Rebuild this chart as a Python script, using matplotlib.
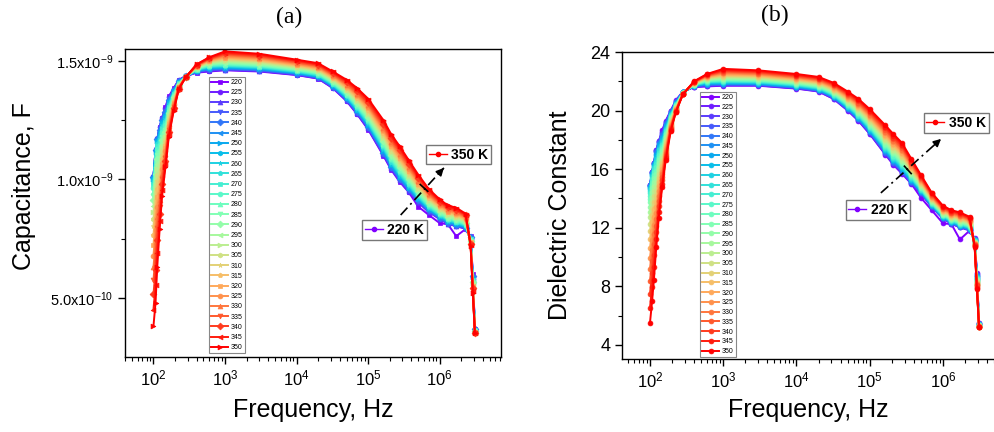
import numpy as np
import matplotlib
matplotlib.use("Agg")
import matplotlib.pyplot as plt
from matplotlib.lines import Line2D
from matplotlib.legend import Legend
from matplotlib.ticker import FixedLocator, FuncFormatter

plt.rcParams['font.family'] = ['Liberation Sans', 'DejaVu Sans']
plt.rcParams['mathtext.default'] = 'regular'

# temperatures (K) and measurement frequencies (Hz)
temps_k = [220, 225, 230, 235, 240, 245, 250, 255, 260, 265, 270, 275, 280, 285,
           290, 295, 300, 305, 310, 315, 320, 325, 330, 335, 340, 345, 350]
freq_hz = [100, 107, 113, 122, 132, 147, 164, 192, 226, 281, 400, 600, 1000, 3000,
           10000, 20000, 32000, 50000, 70000, 100000, 163000, 210000, 275000, 370000,
           500000, 700000, 1000000, 1300000, 1700000, 2300000, 2700000, 2900000, 3100000]

# capacitance (nF), one row per frequency, 27 values each (220 K ... 350 K)
cap_nf = [
    [1.010, 1.010, 1.010, 1.009, 1.008, 1.006, 1.002, 0.998, 0.992, 0.984, 0.974, 0.962, 0.948, 0.931, 0.912, 0.889, 0.863, 0.834, 0.801, 0.764, 0.723, 0.678, 0.628, 0.574, 0.514, 0.450, 0.380],
    [1.125, 1.125, 1.125, 1.124, 1.123, 1.120, 1.117, 1.112, 1.106, 1.098, 1.088, 1.076, 1.062, 1.044, 1.024, 1.001, 0.975, 0.945, 0.911, 0.873, 0.831, 0.785, 0.734, 0.679, 0.618, 0.552, 0.480],
    [1.170, 1.170, 1.170, 1.169, 1.168, 1.166, 1.163, 1.159, 1.154, 1.148, 1.139, 1.129, 1.117, 1.103, 1.086, 1.066, 1.044, 1.019, 0.991, 0.959, 0.924, 0.885, 0.843, 0.796, 0.745, 0.690, 0.630],
    [1.220, 1.219, 1.217, 1.214, 1.210, 1.204, 1.197, 1.189, 1.179, 1.168, 1.156, 1.143, 1.128, 1.112, 1.095, 1.077, 1.057, 1.036, 1.014, 0.990, 0.966, 0.939, 0.912, 0.884, 0.854, 0.822, 0.790],
    [1.260, 1.260, 1.258, 1.256, 1.252, 1.248, 1.242, 1.236, 1.229, 1.220, 1.211, 1.201, 1.190, 1.178, 1.164, 1.150, 1.135, 1.119, 1.102, 1.084, 1.065, 1.045, 1.024, 1.002, 0.979, 0.955, 0.930],
    [1.305, 1.300, 1.294, 1.289, 1.282, 1.276, 1.269, 1.261, 1.254, 1.246, 1.237, 1.228, 1.219, 1.209, 1.199, 1.189, 1.178, 1.167, 1.156, 1.144, 1.131, 1.119, 1.106, 1.092, 1.079, 1.065, 1.050],
    [1.350, 1.347, 1.343, 1.339, 1.335, 1.331, 1.326, 1.321, 1.316, 1.310, 1.305, 1.299, 1.293, 1.286, 1.280, 1.273, 1.266, 1.258, 1.250, 1.243, 1.234, 1.226, 1.217, 1.208, 1.199, 1.190, 1.180],
    [1.385, 1.383, 1.381, 1.379, 1.377, 1.374, 1.372, 1.369, 1.366, 1.363, 1.360, 1.356, 1.353, 1.349, 1.346, 1.342, 1.338, 1.334, 1.329, 1.325, 1.320, 1.316, 1.311, 1.306, 1.301, 1.295, 1.290],
    [1.420, 1.418, 1.417, 1.415, 1.414, 1.412, 1.411, 1.409, 1.408, 1.406, 1.405, 1.403, 1.402, 1.400, 1.398, 1.397, 1.395, 1.394, 1.392, 1.391, 1.389, 1.388, 1.386, 1.385, 1.383, 1.382, 1.380],
    [1.435, 1.435, 1.435, 1.434, 1.434, 1.434, 1.434, 1.434, 1.433, 1.433, 1.433, 1.433, 1.433, 1.432, 1.432, 1.432, 1.432, 1.432, 1.432, 1.431, 1.431, 1.431, 1.431, 1.431, 1.430, 1.430, 1.430],
    [1.450, 1.451, 1.453, 1.454, 1.455, 1.457, 1.458, 1.459, 1.461, 1.462, 1.463, 1.465, 1.466, 1.468, 1.469, 1.470, 1.472, 1.473, 1.474, 1.476, 1.477, 1.478, 1.480, 1.481, 1.482, 1.484, 1.485],
    [1.455, 1.457, 1.460, 1.462, 1.464, 1.467, 1.469, 1.471, 1.474, 1.476, 1.478, 1.480, 1.483, 1.485, 1.487, 1.490, 1.492, 1.494, 1.497, 1.499, 1.501, 1.504, 1.506, 1.508, 1.510, 1.513, 1.515],
    [1.460, 1.462, 1.463, 1.465, 1.467, 1.469, 1.471, 1.474, 1.476, 1.479, 1.481, 1.484, 1.487, 1.490, 1.493, 1.496, 1.500, 1.503, 1.507, 1.511, 1.514, 1.518, 1.523, 1.527, 1.531, 1.535, 1.540],
    [1.455, 1.457, 1.458, 1.460, 1.462, 1.464, 1.466, 1.468, 1.470, 1.473, 1.475, 1.478, 1.480, 1.483, 1.486, 1.489, 1.492, 1.496, 1.499, 1.502, 1.506, 1.510, 1.514, 1.518, 1.522, 1.526, 1.530],
    [1.440, 1.441, 1.443, 1.444, 1.446, 1.448, 1.449, 1.451, 1.453, 1.455, 1.457, 1.460, 1.462, 1.464, 1.467, 1.470, 1.472, 1.475, 1.478, 1.481, 1.484, 1.487, 1.491, 1.494, 1.498, 1.501, 1.505],
    [1.425, 1.426, 1.428, 1.429, 1.431, 1.433, 1.434, 1.436, 1.438, 1.440, 1.442, 1.445, 1.447, 1.449, 1.452, 1.455, 1.457, 1.460, 1.463, 1.466, 1.469, 1.472, 1.476, 1.479, 1.483, 1.486, 1.490],
    [1.385, 1.386, 1.388, 1.390, 1.391, 1.393, 1.395, 1.397, 1.399, 1.401, 1.404, 1.406, 1.409, 1.411, 1.414, 1.417, 1.420, 1.423, 1.426, 1.429, 1.433, 1.436, 1.440, 1.443, 1.447, 1.451, 1.455],
    [1.330, 1.332, 1.334, 1.336, 1.338, 1.340, 1.343, 1.345, 1.348, 1.351, 1.354, 1.357, 1.360, 1.364, 1.367, 1.371, 1.375, 1.379, 1.383, 1.387, 1.391, 1.396, 1.400, 1.405, 1.410, 1.415, 1.420],
    [1.275, 1.277, 1.280, 1.282, 1.285, 1.288, 1.291, 1.294, 1.297, 1.301, 1.304, 1.308, 1.312, 1.316, 1.321, 1.325, 1.330, 1.335, 1.339, 1.345, 1.350, 1.355, 1.361, 1.367, 1.373, 1.379, 1.385],
    [1.210, 1.213, 1.215, 1.218, 1.222, 1.225, 1.229, 1.232, 1.236, 1.240, 1.245, 1.249, 1.254, 1.259, 1.264, 1.269, 1.275, 1.280, 1.286, 1.292, 1.299, 1.305, 1.312, 1.318, 1.325, 1.333, 1.340],
    [1.100, 1.103, 1.106, 1.110, 1.113, 1.117, 1.121, 1.126, 1.130, 1.135, 1.140, 1.145, 1.151, 1.156, 1.162, 1.168, 1.175, 1.181, 1.188, 1.195, 1.202, 1.210, 1.217, 1.225, 1.233, 1.241, 1.250],
    [1.040, 1.043, 1.046, 1.050, 1.053, 1.057, 1.061, 1.066, 1.070, 1.075, 1.080, 1.085, 1.091, 1.096, 1.102, 1.108, 1.115, 1.121, 1.128, 1.135, 1.142, 1.150, 1.157, 1.165, 1.173, 1.181, 1.190],
    [0.990, 0.993, 0.996, 1.000, 1.003, 1.007, 1.011, 1.016, 1.020, 1.025, 1.030, 1.035, 1.041, 1.046, 1.052, 1.058, 1.065, 1.071, 1.078, 1.085, 1.092, 1.100, 1.107, 1.115, 1.123, 1.131, 1.140],
    [0.945, 0.948, 0.951, 0.954, 0.957, 0.961, 0.964, 0.968, 0.972, 0.977, 0.981, 0.986, 0.991, 0.996, 1.001, 1.006, 1.012, 1.018, 1.024, 1.030, 1.037, 1.044, 1.050, 1.058, 1.065, 1.072, 1.080],
    [0.885, 0.902, 0.905, 0.908, 0.911, 0.914, 0.917, 0.921, 0.924, 0.928, 0.932, 0.936, 0.940, 0.945, 0.950, 0.955, 0.960, 0.965, 0.970, 0.976, 0.982, 0.988, 0.994, 1.000, 1.007, 1.013, 1.020],
    [0.850, 0.862, 0.864, 0.866, 0.869, 0.872, 0.874, 0.877, 0.880, 0.883, 0.887, 0.890, 0.894, 0.898, 0.901, 0.905, 0.910, 0.914, 0.919, 0.923, 0.928, 0.933, 0.938, 0.943, 0.949, 0.954, 0.960],
    [0.815, 0.832, 0.834, 0.835, 0.838, 0.840, 0.842, 0.845, 0.847, 0.850, 0.853, 0.856, 0.859, 0.862, 0.865, 0.869, 0.872, 0.876, 0.880, 0.884, 0.888, 0.892, 0.896, 0.901, 0.905, 0.910, 0.915],
    [0.810, 0.812, 0.813, 0.815, 0.817, 0.819, 0.821, 0.824, 0.826, 0.829, 0.831, 0.834, 0.837, 0.840, 0.843, 0.846, 0.850, 0.853, 0.857, 0.861, 0.864, 0.868, 0.873, 0.877, 0.881, 0.885, 0.890],
    [0.760, 0.802, 0.803, 0.805, 0.807, 0.809, 0.811, 0.814, 0.816, 0.819, 0.821, 0.824, 0.827, 0.830, 0.833, 0.836, 0.840, 0.843, 0.847, 0.851, 0.854, 0.858, 0.862, 0.867, 0.871, 0.875, 0.880],
    [0.790, 0.791, 0.793, 0.794, 0.796, 0.798, 0.799, 0.801, 0.803, 0.805, 0.807, 0.810, 0.812, 0.814, 0.817, 0.820, 0.822, 0.825, 0.828, 0.831, 0.834, 0.837, 0.841, 0.844, 0.848, 0.851, 0.855],
    [0.760, 0.752, 0.758, 0.748, 0.755, 0.745, 0.750, 0.742, 0.751, 0.740, 0.746, 0.738, 0.744, 0.735, 0.741, 0.733, 0.739, 0.730, 0.737, 0.728, 0.734, 0.726, 0.731, 0.724, 0.729, 0.722, 0.720],
    [0.600, 0.585, 0.596, 0.578, 0.590, 0.572, 0.586, 0.566, 0.580, 0.562, 0.575, 0.558, 0.570, 0.553, 0.566, 0.549, 0.561, 0.545, 0.556, 0.541, 0.551, 0.537, 0.546, 0.533, 0.540, 0.528, 0.520],
    [0.370, 0.365, 0.372, 0.362, 0.368, 0.360, 0.366, 0.358, 0.364, 0.356, 0.362, 0.355, 0.360, 0.354, 0.359, 0.353, 0.357, 0.352, 0.356, 0.351, 0.355, 0.350, 0.354, 0.350, 0.352, 0.350, 0.350],
]

# dielectric constant, same layout
eps_r = [
    [14.90, 14.90, 14.90, 14.89, 14.87, 14.83, 14.78, 14.72, 14.63, 14.51, 14.37, 14.19, 13.98, 13.73, 13.43, 13.10, 12.71, 12.27, 11.78, 11.23, 10.62, 9.95, 9.21, 8.39, 7.51, 6.54, 5.50],
    [15.80, 15.80, 15.80, 15.79, 15.77, 15.74, 15.69, 15.63, 15.54, 15.43, 15.30, 15.13, 14.94, 14.70, 14.43, 14.11, 13.75, 13.34, 12.88, 12.37, 11.79, 11.16, 10.47, 9.71, 8.88, 7.98, 7.00],
    [16.40, 16.40, 16.40, 16.39, 16.37, 16.34, 16.30, 16.24, 16.17, 16.07, 15.94, 15.79, 15.61, 15.40, 15.15, 14.86, 14.54, 14.16, 13.75, 13.28, 12.76, 12.18, 11.55, 10.86, 10.11, 9.29, 8.40],
    [17.30, 17.29, 17.26, 17.21, 17.14, 17.06, 16.95, 16.82, 16.68, 16.51, 16.32, 16.12, 15.89, 15.65, 15.39, 15.10, 14.80, 14.48, 14.14, 13.78, 13.39, 12.99, 12.57, 12.14, 11.68, 11.20, 10.70],
    [17.90, 17.89, 17.87, 17.83, 17.78, 17.71, 17.62, 17.52, 17.41, 17.28, 17.13, 16.97, 16.79, 16.60, 16.39, 16.17, 15.93, 15.68, 15.41, 15.12, 14.82, 14.51, 14.18, 13.83, 13.47, 13.09, 12.70],
    [18.65, 18.57, 18.49, 18.40, 18.31, 18.21, 18.10, 17.99, 17.88, 17.75, 17.62, 17.49, 17.35, 17.21, 17.06, 16.90, 16.74, 16.57, 16.39, 16.22, 16.03, 15.84, 15.64, 15.44, 15.23, 15.02, 14.80],
    [19.30, 19.25, 19.19, 19.13, 19.06, 18.99, 18.92, 18.84, 18.76, 18.67, 18.58, 18.49, 18.39, 18.29, 18.18, 18.07, 17.96, 17.84, 17.72, 17.59, 17.46, 17.33, 17.19, 17.05, 16.90, 16.75, 16.60],
    [20.00, 19.97, 19.94, 19.91, 19.88, 19.84, 19.80, 19.76, 19.72, 19.67, 19.63, 19.58, 19.53, 19.48, 19.42, 19.36, 19.30, 19.24, 19.18, 19.11, 19.05, 18.98, 18.91, 18.83, 18.76, 18.68, 18.60],
    [20.70, 20.67, 20.64, 20.61, 20.58, 20.55, 20.52, 20.48, 20.45, 20.42, 20.39, 20.36, 20.33, 20.30, 20.27, 20.24, 20.21, 20.18, 20.15, 20.12, 20.08, 20.05, 20.02, 19.99, 19.96, 19.93, 19.90],
    [21.30, 21.29, 21.28, 21.28, 21.27, 21.26, 21.25, 21.25, 21.24, 21.23, 21.22, 21.22, 21.21, 21.20, 21.19, 21.18, 21.18, 21.17, 21.16, 21.15, 21.15, 21.14, 21.13, 21.12, 21.12, 21.11, 21.10],
    [21.60, 21.62, 21.63, 21.65, 21.66, 21.68, 21.69, 21.71, 21.72, 21.74, 21.75, 21.77, 21.78, 21.80, 21.82, 21.83, 21.85, 21.86, 21.88, 21.89, 21.91, 21.92, 21.94, 21.95, 21.97, 21.98, 22.00],
    [21.65, 21.68, 21.72, 21.75, 21.78, 21.81, 21.85, 21.88, 21.91, 21.94, 21.98, 22.01, 22.04, 22.08, 22.11, 22.14, 22.17, 22.21, 22.24, 22.27, 22.30, 22.34, 22.37, 22.40, 22.44, 22.47, 22.50],
    [21.70, 21.72, 21.75, 21.77, 21.80, 21.83, 21.86, 21.90, 21.93, 21.97, 22.01, 22.05, 22.09, 22.13, 22.18, 22.22, 22.27, 22.32, 22.37, 22.43, 22.48, 22.54, 22.60, 22.66, 22.72, 22.78, 22.85],
    [21.70, 21.72, 21.74, 21.77, 21.79, 21.82, 21.85, 21.88, 21.91, 21.94, 21.98, 22.02, 22.05, 22.09, 22.13, 22.18, 22.22, 22.27, 22.32, 22.36, 22.41, 22.47, 22.52, 22.58, 22.63, 22.69, 22.75],
    [21.50, 21.52, 21.54, 21.56, 21.59, 21.61, 21.64, 21.67, 21.70, 21.73, 21.77, 21.80, 21.84, 21.88, 21.91, 21.95, 22.00, 22.04, 22.09, 22.13, 22.18, 22.23, 22.28, 22.33, 22.39, 22.44, 22.50],
    [21.30, 21.32, 21.34, 21.36, 21.39, 21.41, 21.44, 21.47, 21.50, 21.53, 21.57, 21.60, 21.64, 21.68, 21.71, 21.75, 21.80, 21.84, 21.89, 21.93, 21.98, 22.03, 22.08, 22.13, 22.19, 22.24, 22.30],
    [20.80, 20.82, 20.85, 20.87, 20.90, 20.93, 20.96, 20.99, 21.02, 21.06, 21.09, 21.13, 21.17, 21.21, 21.26, 21.30, 21.35, 21.39, 21.44, 21.50, 21.55, 21.60, 21.66, 21.72, 21.78, 21.84, 21.90],
    [20.00, 20.03, 20.05, 20.08, 20.12, 20.15, 20.18, 20.22, 20.26, 20.30, 20.35, 20.39, 20.44, 20.49, 20.54, 20.59, 20.65, 20.70, 20.76, 20.82, 20.88, 20.95, 21.02, 21.08, 21.15, 21.23, 21.30],
    [19.30, 19.33, 19.36, 19.40, 19.43, 19.47, 19.51, 19.56, 19.60, 19.65, 19.70, 19.75, 19.81, 19.86, 19.92, 19.98, 20.05, 20.11, 20.18, 20.25, 20.32, 20.40, 20.47, 20.55, 20.63, 20.71, 20.80],
    [18.40, 18.43, 18.47, 18.51, 18.55, 18.60, 18.64, 18.69, 18.74, 18.80, 18.85, 18.91, 18.97, 19.04, 19.10, 19.17, 19.25, 19.32, 19.40, 19.48, 19.56, 19.64, 19.73, 19.82, 19.91, 20.00, 20.10],
    [17.00, 17.04, 17.08, 17.13, 17.18, 17.23, 17.28, 17.34, 17.40, 17.47, 17.53, 17.60, 17.67, 17.75, 17.83, 17.91, 17.99, 18.08, 18.17, 18.26, 18.36, 18.46, 18.56, 18.67, 18.78, 18.89, 19.00],
    [16.30, 16.34, 16.39, 16.44, 16.49, 16.54, 16.60, 16.66, 16.72, 16.79, 16.86, 16.93, 17.01, 17.09, 17.17, 17.26, 17.34, 17.44, 17.53, 17.63, 17.73, 17.83, 17.94, 18.05, 18.16, 18.28, 18.40],
    [15.70, 15.74, 15.79, 15.84, 15.89, 15.94, 16.00, 16.06, 16.12, 16.19, 16.26, 16.33, 16.41, 16.49, 16.57, 16.66, 16.74, 16.84, 16.93, 17.03, 17.13, 17.23, 17.34, 17.45, 17.56, 17.68, 17.80],
    [15.00, 15.03, 15.07, 15.11, 15.15, 15.20, 15.24, 15.29, 15.34, 15.40, 15.45, 15.51, 15.57, 15.64, 15.70, 15.77, 15.85, 15.92, 16.00, 16.08, 16.16, 16.24, 16.33, 16.42, 16.51, 16.60, 16.70],
    [14.05, 14.33, 14.35, 14.38, 14.42, 14.45, 14.48, 14.52, 14.56, 14.60, 14.65, 14.69, 14.74, 14.79, 14.84, 14.89, 14.95, 15.00, 15.06, 15.12, 15.18, 15.25, 15.32, 15.38, 15.45, 15.53, 15.60],
    [13.20, 13.42, 13.44, 13.46, 13.49, 13.51, 13.54, 13.57, 13.60, 13.63, 13.67, 13.70, 13.74, 13.78, 13.81, 13.85, 13.90, 13.94, 13.99, 14.03, 14.08, 14.13, 14.18, 14.23, 14.29, 14.34, 14.40],
    [12.30, 12.62, 12.64, 12.66, 12.68, 12.70, 12.73, 12.75, 12.78, 12.81, 12.84, 12.87, 12.90, 12.94, 12.97, 13.01, 13.05, 13.09, 13.13, 13.17, 13.21, 13.26, 13.30, 13.35, 13.40, 13.45, 13.50],
    [12.25, 12.27, 12.29, 12.31, 12.33, 12.36, 12.39, 12.41, 12.44, 12.47, 12.50, 12.54, 12.57, 12.61, 12.64, 12.68, 12.72, 12.76, 12.81, 12.85, 12.90, 12.94, 12.99, 13.04, 13.09, 13.15, 13.20],
    [11.20, 12.02, 12.04, 12.07, 12.09, 12.12, 12.15, 12.18, 12.21, 12.24, 12.28, 12.32, 12.35, 12.39, 12.43, 12.48, 12.52, 12.57, 12.62, 12.66, 12.71, 12.77, 12.82, 12.88, 12.93, 12.99, 13.05],
    [11.80, 11.82, 11.84, 11.86, 11.88, 11.91, 11.94, 11.96, 11.99, 12.02, 12.05, 12.09, 12.12, 12.16, 12.19, 12.23, 12.27, 12.31, 12.36, 12.40, 12.45, 12.49, 12.54, 12.59, 12.64, 12.70, 12.75],
    [11.30, 11.18, 11.26, 11.12, 11.22, 11.08, 11.17, 11.04, 11.14, 11.00, 11.10, 10.97, 11.06, 10.93, 11.02, 10.90, 10.99, 10.87, 10.96, 10.84, 10.92, 10.81, 10.88, 10.78, 10.84, 10.75, 10.70],
    [8.90, 8.68, 8.84, 8.58, 8.76, 8.50, 8.70, 8.42, 8.62, 8.36, 8.55, 8.30, 8.48, 8.24, 8.42, 8.18, 8.36, 8.12, 8.30, 8.06, 8.24, 8.00, 8.16, 7.95, 8.06, 7.88, 7.80],
    [5.50, 5.42, 5.52, 5.38, 5.46, 5.35, 5.44, 5.32, 5.41, 5.30, 5.38, 5.29, 5.36, 5.27, 5.34, 5.26, 5.32, 5.25, 5.30, 5.24, 5.28, 5.23, 5.26, 5.22, 5.24, 5.21, 5.20],
]

markers_a = ['s', 'o', '^', 'v', 'D', '<', '>', 'h', '*', 'p']
colors = plt.cm.rainbow(np.linspace(0, 1, len(temps_k)))


def sci_label(v, pos):
    e = int(np.floor(np.log10(v) + 1e-9))
    return f'{v / 10**e:.1f}x10$^{{{e}}}$'


def draw_curves(ax, table, markers, scale=1.0):
    vals = np.array(table).T * scale
    for i, t in enumerate(temps_k):
        ax.plot(freq_hz, vals[i], color=colors[i], lw=1.4,
                marker=markers[i % len(markers)], ms=3.5, mec=colors[i], mew=0.5,
                label=str(t))


def style_axes(ax):
    ax.set_xscale('log')
    for s in ax.spines.values():
        s.set_linewidth(1.0)
    ax.tick_params(which='both', direction='out', top=False, right=False)
    ax.tick_params(which='major', length=5, width=1, labelsize=12)
    ax.tick_params(which='minor', length=3, width=0.8)


def tag(ax, text, color, center):
    h = Line2D([], [], color=color, lw=1, marker='o', ms=3)
    lg = Legend(ax, [h], [text], loc='center', bbox_to_anchor=center,
                bbox_transform=ax.transAxes, prop={'weight': 'bold', 'size': 10},
                handlelength=1.3, handletextpad=0.3, borderpad=0.2,
                fancybox=False, edgecolor='#777777', framealpha=1, borderaxespad=0)
    lg.get_frame().set_linewidth(1.0)
    ax.add_artist(lg)


def arrow(ax, start, end, tick_mid, tick_d):
    ax.plot([start[0], end[0]], [start[1], end[1]], transform=ax.transAxes,
            color='black', lw=1.2, ls=(0, (6, 2.5, 1.2, 2.5)))
    back = (end[0] - 0.12 * (end[0] - start[0]), end[1] - 0.12 * (end[1] - start[1]))
    ax.annotate('', xy=end, xytext=back, xycoords='axes fraction',
                arrowprops=dict(arrowstyle='-|>', color='black', lw=1.2,
                                mutation_scale=11, shrinkA=0, shrinkB=0))
    ax.plot([tick_mid[0] - tick_d[0], tick_mid[0] + tick_d[0]],
            [tick_mid[1] - tick_d[1], tick_mid[1] + tick_d[1]],
            transform=ax.transAxes, color='black', lw=1.2)


fig = plt.figure(figsize=(9.95, 4.32), dpi=100)

# (a) capacitance
ax1 = fig.add_axes([0.1256, 0.1736, 0.378, 0.713])
draw_curves(ax1, cap_nf, markers_a, scale=1e-9)
style_axes(ax1)
ax1.set_xlim(40, 7.2e6)
ax1.set_ylim(2.5e-10, 1.55e-9)
ax1.yaxis.set_major_locator(FixedLocator([5e-10, 1.0e-9, 1.5e-9]))
ax1.yaxis.set_minor_locator(FixedLocator([7.5e-10, 1.25e-9]))
ax1.yaxis.set_major_formatter(FuncFormatter(sci_label))
ax1.tick_params(axis='y', which='major', labelsize=10.5)
ax1.set_xlabel('Frequency, Hz', fontsize=18)
ax1.set_ylabel('Capacitance, F', fontsize=18)
ax1.xaxis.set_label_coords(0.502, -0.172)
ax1.yaxis.set_label_coords(-0.269, 0.555)
ax1.xaxis.label.set_va('center')
ax1.yaxis.label.set_va('center')
leg1 = ax1.legend(loc='upper left', bbox_to_anchor=(0.224, 0.909), fontsize=5,
                  labelspacing=0.46, handlelength=2.4, handletextpad=0.4, borderpad=0.3,
                  fancybox=False, edgecolor='#888888', framealpha=1, borderaxespad=0)
leg1.get_frame().set_linewidth(0.8)
tag(ax1, '350 K', colors[-1], (0.887, 0.657))
tag(ax1, '220 K', colors[0], (0.717, 0.412))
arrow(ax1, (0.733, 0.461), (0.848, 0.614), (0.795, 0.549), (0.0099, -0.011))

# (b) dielectric constant
ax2 = fig.add_axes([0.6251, 0.169, 0.376, 0.7106])
draw_curves(ax2, eps_r, ['o'])
style_axes(ax2)
ax2.set_xlim(41.5, 5.3e6)
ax2.set_ylim(3.04, 24)
ax2.yaxis.set_major_locator(FixedLocator([4, 8, 12, 16, 20, 24]))
ax2.yaxis.set_minor_locator(FixedLocator([6, 10, 14, 18, 22]))
ax2.tick_params(axis='y', which='major', labelsize=13)
ax2.set_xlabel('Frequency, Hz', fontsize=18)
ax2.set_ylabel('Dielectric Constant', fontsize=18)
ax2.xaxis.set_label_coords(0.498, -0.166)
ax2.yaxis.set_label_coords(-0.166, 0.469)
ax2.xaxis.label.set_va('center')
ax2.yaxis.label.set_va('center')
leg2 = ax2.legend(loc='upper left', bbox_to_anchor=(0.209, 0.87), fontsize=5,
                  labelspacing=0.40, handlelength=2.4, handletextpad=0.4, borderpad=0.3,
                  fancybox=False, edgecolor='#888888', framealpha=1, borderaxespad=0)
leg2.get_frame().set_linewidth(0.8)
tag(ax2, '350 K', colors[-1], (0.893, 0.769))
tag(ax2, '220 K', colors[0], (0.684, 0.485))
arrow(ax2, (0.692, 0.541), (0.853, 0.717), (0.764, 0.616), (0.009, -0.012))

fig.text(289 / 995, 1 - 17 / 432, '(a)', ha='center', va='center', fontsize=17,
         family='Liberation Serif')
fig.text(775 / 995, 1 - 15 / 432, '(b)', ha='center', va='center', fontsize=17,
         family='Liberation Serif')

fig.savefig('out.png', dpi=100)
